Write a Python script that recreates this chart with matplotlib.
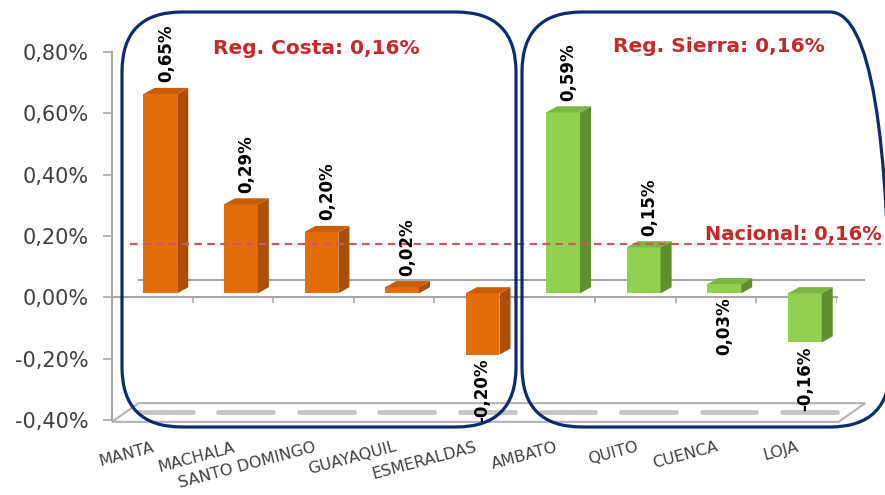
import numpy as np
import matplotlib.pyplot as plt
from matplotlib.patches import Polygon, FancyBboxPatch

plt.rcParams['font.family'] = ['DejaVu Sans']

# Datos (variación porcentual)
ciudades_costa = ['MANTA', 'MACHALA', 'SANTO DOMINGO', 'GUAYAQUIL', 'ESMERALDAS']
valores_costa = [0.65, 0.29, 0.20, 0.02, -0.20]
ciudades_sierra = ['AMBATO', 'QUITO', 'CUENCA', 'LOJA']
valores_sierra = [0.59, 0.15, 0.03, -0.16]
prom_costa = 0.16
prom_sierra = 0.16
nacional = 0.16
yticks = [-0.40, -0.20, 0.00, 0.20, 0.40, 0.60, 0.80]

ciudades = ciudades_costa + ciudades_sierra
valores = valores_costa + valores_sierra
n_costa = len(ciudades_costa)


def fmt(v):
    return f'{v:.2f}'.replace('.', ',') + '%'


# Colores
naranja = ('#E46C0A', '#A94F07', '#C85E08')   # frente, lado, tapa
verde = ('#92D050', '#5F8F2F', '#7BB542')
rojo = '#C62828'
azul = '#0B2C6E'
gris = '#A6A6A6'

fig = plt.figure(figsize=(8.85, 4.95), dpi=100)
ax = fig.add_axes([112 / 885, 75 / 495, 725 / 885, 368 / 495])
ax.set_xlim(-0.5, 8.5)
ax.set_ylim(-0.4, 0.8)

# efecto 3D
DX, DY = 0.33, 0.055       # profundidad de la pared del fondo
z0 = 0.013                 # plano de las barras
bx = 0.10                  # desplazamiento del frente de la barra
w = 0.42                   # ancho de barra
sdx, sdy = 0.137, 0.02     # profundidad de cada barra

# piso
piso = Polygon([(-0.5, -0.406), (8.52, -0.406), (8.52 + DX, -0.4 + DY),
                (-0.5 + DX, -0.4 + DY)], closed=True, fc='white',
               ec='#B4B4B4', lw=1.5, clip_on=False, zorder=1)
ax.add_patch(piso)
for i in range(len(ciudades)):
    ax.plot([i - 0.18, i + 0.5], [-0.374, -0.374], color='#B8B8B8', lw=3.5,
            alpha=0.8, solid_capstyle='round', clip_on=False, zorder=1.5)

# líneas de cero (fondo y frente)
ax.plot([-0.5 + DX, 8.5 + DX], [DY, DY], color=gris, lw=1.5, clip_on=False, zorder=1)
ax.plot([-0.5, 8.5], [0, 0], color=gris, lw=1.5, clip_on=False, zorder=1)
for b in np.arange(0.5, 9, 1):
    ax.plot([b, b], [0, -0.016], color=gris, lw=1.2, zorder=1)

# barras
for i, (nombre, v) in enumerate(zip(ciudades, valores)):
    col = naranja if i < n_costa else verde
    xc = i + bx
    x0, x1 = xc - w / 2, xc + w / 2
    lo, hi = z0 + min(0, v), z0 + max(0, v)
    ax.bar(xc, v, width=w, bottom=z0, color=col[0], zorder=3)
    ax.add_patch(Polygon([(x1, lo), (x1 + sdx, lo + sdy), (x1 + sdx, hi + sdy), (x1, hi)],
                         closed=True, fc=col[1], ec='none', zorder=3))
    ax.add_patch(Polygon([(x0, hi), (x1, hi), (x1 + sdx, hi + sdy), (x0 + sdx, hi + sdy)],
                         closed=True, fc=col[2], ec='none', zorder=3))
    if v < 0 or nombre == 'CUENCA':
        ax.annotate(fmt(v), (xc, lo), xytext=(0, -3), textcoords='offset points',
                    rotation=90, ha='center', va='top', fontsize=12,
                    fontweight='bold', color='black', zorder=5)
    else:
        ax.annotate(fmt(v), (xc + sdx / 2, hi + sdy), xytext=(0, 4),
                    textcoords='offset points', rotation=90, ha='center',
                    va='bottom', fontsize=12, fontweight='bold', color='black', zorder=5)

# línea nacional
ax.plot([-0.28, 9.04], [nacional + z0] * 2, color='#D0585A', lw=1.6,
        dashes=(3.4, 2.4), clip_on=False, zorder=4)
ax.text(9.06, nacional + z0, 'Nacional: ' + fmt(nacional), ha='right', va='bottom',
        fontsize=14, fontweight='bold', color=rojo, clip_on=False)

# ejes
for s in ['top', 'right', 'bottom']:
    ax.spines[s].set_visible(False)
ax.spines['left'].set_color(gris)
ax.spines['left'].set_linewidth(1.5)
ax.spines['left'].set_bounds(-0.4, 0.8)
ax.set_yticks(yticks)
ax.set_yticklabels([fmt(t) for t in yticks])
ax.tick_params(axis='y', length=6.5, width=1.2, color=gris, labelsize=15,
               labelcolor='#404040', pad=10)
ax.set_xticks(range(len(ciudades)))
ax.set_xticklabels(ciudades)
ax.tick_params(axis='x', length=0, pad=14, labelsize=11.5, labelcolor='#404040')
plt.setp(ax.get_xticklabels(), rotation=15, ha='right', va='top', rotation_mode='anchor')

# recuadros de región
for x0, x1 in [(122, 516), (522, 890)]:
    caja = FancyBboxPatch((x0 / 100, 68 / 100), (x1 - x0) / 100, 415 / 100,
                          boxstyle='round,pad=0,rounding_size=0.6',
                          transform=fig.dpi_scale_trans, fill=False, ec=azul, lw=2.3)
    fig.add_artist(caja)
fig.text(316 / 885, 447 / 495, 'Reg. Costa: ' + fmt(prom_costa), ha='center', va='center',
         fontsize=14.5, fontweight='bold', color=rojo)
fig.text(719 / 885, 448 / 495, 'Reg. Sierra: ' + fmt(prom_sierra), ha='center', va='center',
         fontsize=14.5, fontweight='bold', color=rojo)

fig.savefig('out.png', dpi=100)
